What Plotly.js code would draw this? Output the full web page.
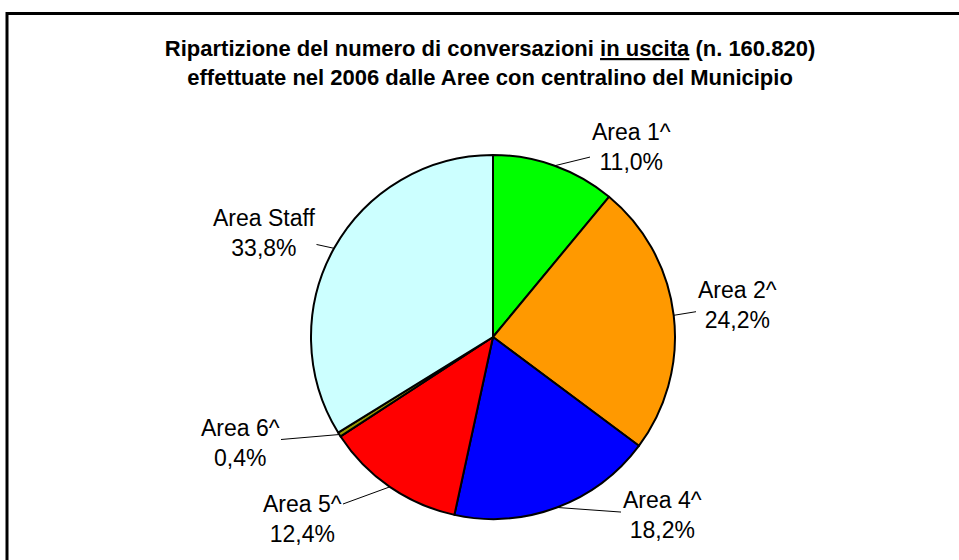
<!DOCTYPE html>
<html>
<head>
<meta charset="utf-8">
<script src="https://cdn.plot.ly/plotly-3.0.1.min.js"></script>
<style>
  html, body { margin: 0; padding: 0; background: #fff; }
  #chart { width: 959px; height: 560px; }
</style>
</head>
<body>
<div id="chart"></div>
<script>
// ---- data ----
const categories = ['Area 1^', 'Area 2^', 'Area 4^', 'Area 5^', 'Area 6^', 'Area Staff'];
const shares = [11.0, 24.2, 18.2, 12.4, 0.4, 33.8];
const sliceColors = ['#00FF00', '#FF9900', '#0000FF', '#FF0000', '#999900', '#CCFFFF'];
const titleLine1 = 'Ripartizione del numero di conversazioni <u>in uscita</u> (n. 160.820)';
const titleLine2 = 'effettuate nel 2006 dalle Aree con centralino del Municipio';

// ---- layout geometry (pixels) ----
const W = 959, H = 560;
const CX = 493, CY = 337, R = 182;
// text-centre position of each label (layout, not data)
const labelPos = [[631, 147], [737, 305], [662, 515], [302, 519], [240, 443], [264, 233]];

const fmtPct = v => v.toFixed(1).replace('.', ',') + '%';
const total = shares.reduce((a, b) => a + b, 0);

let cum = 0;
const annotations = categories.map((name, i) => {
  const mid = (cum + shares[i] / 2) / total * 2 * Math.PI;
  cum += shares[i];
  const tx = CX + R * Math.sin(mid);
  const ty = CY - R * Math.cos(mid);
  return {
    xref: 'paper', yref: 'paper',
    x: tx / W, y: 1 - ty / H,
    ax: labelPos[i][0] - tx, ay: labelPos[i][1] - ty,
    axref: 'pixel', ayref: 'pixel',
    text: name + '<br>' + fmtPct(shares[i]),
    showarrow: true, arrowhead: 0, arrowwidth: 1, arrowcolor: '#000',
    standoff: 0, startstandoff: 0, borderpad: 1,
    font: { family: 'Liberation Sans, Arial, sans-serif', size: 23, color: '#000' },
    align: 'center'
  };
});

const trace = {
  type: 'pie',
  labels: categories,
  values: shares,
  sort: false,
  direction: 'clockwise',
  rotation: 0,
  textinfo: 'none',
  hoverinfo: 'label+percent',
  marker: { colors: sliceColors, line: { color: '#000', width: 2 } },
  domain: { x: [(CX - R) / W, (CX + R) / W], y: [1 - (CY + R) / H, 1 - (CY - R) / H] },
  showlegend: false
};

const layout = {
  width: W, height: H,
  margin: { l: 0, r: 0, t: 0, b: 0 },
  paper_bgcolor: '#fff',
  showlegend: false,
  title: {
    text: titleLine1 + '<br>' + titleLine2,
    font: { family: 'Liberation Sans, Arial, sans-serif', size: 22, color: '#000', weight: 'bold' },
    x: 0.511, xanchor: 'center',
    y: 1 - 56 / H, yanchor: 'middle', yref: 'container'
  },
  annotations: annotations,
  shapes: [{
    type: 'rect', xref: 'paper', yref: 'paper',
    x0: 7 / W, x1: 1.2, y0: -0.2, y1: 1 - 13.5 / H,
    line: { color: '#000', width: 3 }, fillcolor: 'rgba(0,0,0,0)'
  }]
};

Plotly.newPlot('chart', [trace], layout, { staticPlot: true, displayModeBar: false });
</script>
</body>
</html>
